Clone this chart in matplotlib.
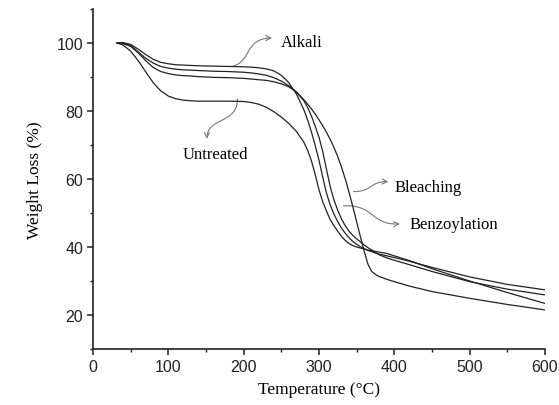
import matplotlib
matplotlib.use('Agg')
import matplotlib.pyplot as plt
from matplotlib.patches import FancyArrowPatch
from matplotlib.path import Path
from matplotlib.ticker import MultipleLocator

# temperature grid (°C) shared by all four curves
temp = [32, 40, 50, 60, 70, 80, 90, 100, 110, 120, 130, 140,
        160, 180, 200, 210, 220, 230, 240, 250, 260, 270, 280,
        285, 290, 295, 300, 305, 310, 315, 320, 325, 330, 335, 340,
        345, 350, 355, 360, 365, 370, 375, 380,
        390, 400, 420, 450, 500, 550, 600]

untreated = [100.0, 99.4, 97.6, 94.8, 91.5, 88.3, 85.9, 84.4, 83.6, 83.2, 83.0, 82.9,
             82.9, 82.9, 82.8, 82.5, 82.0, 81.1, 79.8, 78.2, 76.3, 74.0, 70.8,
             68.4, 65.3, 61.3, 56.8, 53.3, 50.5, 48.0, 46.2, 44.6, 43.1, 41.9, 41.0,
             40.4, 40.0, 39.7, 39.4, 39.1, 38.9, 38.7, 38.5,
             38.1, 37.4, 36.0, 33.6, 30.0, 26.6, 23.4]

alkali = [100.0, 100.1, 99.6, 98.2, 96.6, 95.2, 94.3, 93.9, 93.6, 93.5, 93.4, 93.3,
          93.2, 93.1, 93.0, 92.9, 92.7, 92.4, 91.8, 90.5, 88.3, 85.0, 80.3,
          77.3, 73.8, 69.8, 65.5, 60.5, 55.8, 52.3, 49.6, 47.4, 45.5, 44.0, 42.7,
          41.6, 40.8, 40.1, 39.5, 39.0, 38.6, 38.2, 37.9,
          37.4, 36.9, 35.8, 34.0, 31.2, 29.0, 27.4]

bleaching = [100.0, 100.0, 99.3, 97.4, 95.5, 94.1, 93.1, 92.6, 92.3, 92.1, 92.0, 91.9,
             91.7, 91.6, 91.4, 91.2, 90.9, 90.5, 89.8, 88.8, 87.4, 85.6, 83.3,
             82.0, 80.6, 79.1, 77.4, 75.6, 73.7, 71.6, 69.2, 66.5, 63.4, 59.9, 56.0,
             51.8, 47.4, 43.0, 38.8, 34.9, 32.8, 31.9, 31.3,
             30.5, 29.8, 28.5, 26.9, 24.9, 23.1, 21.5]

benzoylation = [100.0, 99.8, 99.0, 97.1, 94.8, 92.8, 91.6, 91.0, 90.6, 90.4, 90.3, 90.1,
                89.9, 89.8, 89.6, 89.4, 89.2, 89.0, 88.6, 88.0, 87.1, 85.6, 83.0,
                81.0, 78.5, 75.5, 72.3, 68.0, 62.8, 57.6, 53.8, 50.7, 48.2, 46.2, 44.6,
                43.4, 42.4, 41.5, 40.6, 39.8, 39.1, 38.4, 37.7,
                36.8, 36.1, 34.8, 32.8, 29.8, 27.6, 25.9]

plt.rcParams['font.family'] = 'Liberation Sans'

fig = plt.figure(figsize=(5.59, 4.06), dpi=100)
ax = fig.add_axes([93 / 559, 1 - 350 / 406, (545 - 93) / 559, 340 / 406])

for w in (untreated, alkali, bleaching, benzoylation):
    ax.plot(temp, w, color='#222222', lw=0.9)

ax.set_xlim(0, 600)
ax.set_ylim(10, 110)
ax.xaxis.set_major_locator(MultipleLocator(100))
ax.xaxis.set_minor_locator(MultipleLocator(50))
ax.yaxis.set_minor_locator(MultipleLocator(10))
ax.set_yticks([20, 40, 60, 80, 100])
for s in ('top', 'right'):
    ax.spines[s].set_visible(False)
for s in ('left', 'bottom'):
    ax.spines[s].set_linewidth(1.2)
    ax.spines[s].set_color('#222222')
ax.tick_params(which='major', direction='out', length=4.5, width=1.1,
               labelsize=11.5, colors='#222222', pad=2.5)
ax.tick_params(which='minor', direction='out', length=2.5, width=1.0,
               colors='#222222')

serif = 'Liberation Serif'
ax.set_xlabel('Temperature (°C)', family=serif, fontsize=12.5, labelpad=5)
ax.set_ylabel('Weight Loss (%)', family=serif, fontsize=12.5, labelpad=10)


def curved_arrow(pts):
    # one cubic bezier from the curve to the label
    path = Path(pts, [Path.MOVETO, Path.CURVE4, Path.CURVE4, Path.CURVE4])
    ax.add_patch(FancyArrowPatch(path=path, arrowstyle='->', mutation_scale=9,
                                 color='#777777', lw=0.8))


curved_arrow([(185.9, 93.2), (211, 94.7), (200.5, 101.2), (237.6, 101.5)])
ax.text(250, 100.3, 'Alkali', family=serif, fontsize=12, va='center')

curved_arrow([(191.6, 83.5), (192.5, 76.2), (151.3, 78.2), (151.3, 71.8)])
ax.text(163, 67.4, 'Untreated', family=serif, fontsize=12, ha='center', va='center')

curved_arrow([(345.6, 56.3), (370.4, 56.2), (367.8, 59.4), (392, 59.2)])
ax.text(400, 57.7, 'Bleaching', family=serif, fontsize=12, va='center')

curved_arrow([(332.3, 52.1), (374.4, 52.6), (367.7, 46.4), (407.5, 46.8)])
ax.text(420, 46.8, 'Benzoylation', family=serif, fontsize=12, va='center')

fig.savefig('out.png', dpi=100)
